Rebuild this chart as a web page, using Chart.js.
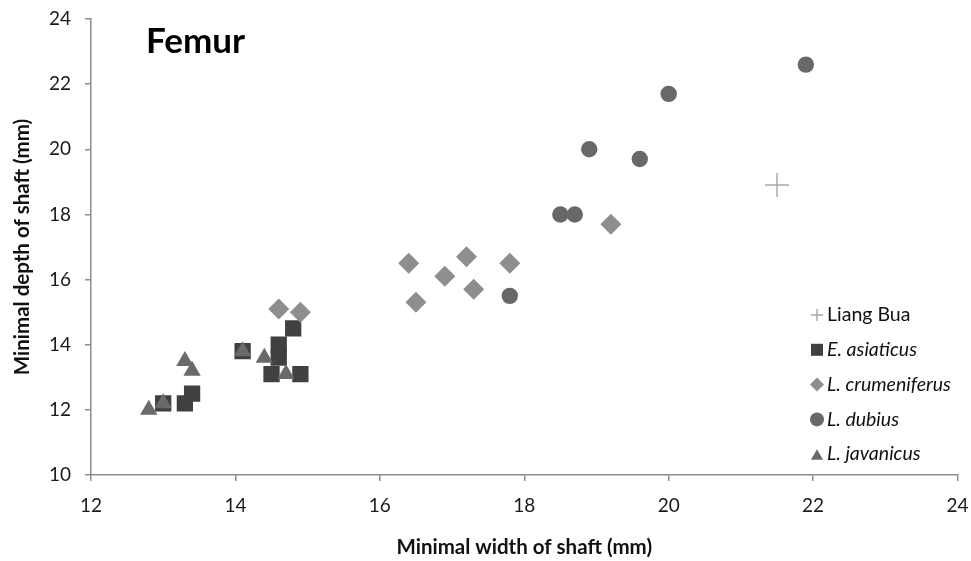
<!DOCTYPE html>
<html>
<head>
<meta charset="utf-8">
<script src="https://cdn.jsdelivr.net/npm/chart.js@4.4.1/dist/chart.umd.min.js"></script>
<style>
  html, body { margin: 0; padding: 0; background: #fff; }
</style>
</head>
<body>
<canvas id="chart" width="971" height="561"></canvas>
<script>
// Femur shaft: minimal width (x) vs minimal depth (y), mm

const xTicks = [12, 14, 16, 18, 20, 22, 24];
const yTicks = [10, 12, 14, 16, 18, 20, 22, 24];

const liangBuaX = [21.5];
const liangBuaY = [18.9];

const asiaticusX = [13.0, 13.3, 13.4, 14.1, 14.5, 14.6, 14.6, 14.8, 14.9];
const asiaticusY = [12.2, 12.2, 12.5, 13.8, 13.1, 14.0, 13.6, 14.5, 13.1];

const crumeniferusX = [14.6, 14.9, 16.4, 16.5, 16.9, 17.2, 17.3, 17.8, 19.2];
const crumeniferusY = [15.1, 15.0, 16.5, 15.3, 16.1, 16.7, 15.7, 16.5, 17.7];

const dubiusX = [17.8, 18.5, 18.7, 18.9, 19.6, 20.0, 21.9];
const dubiusY = [15.5, 18.0, 18.0, 20.0, 19.7, 21.7, 22.6];

const javanicusX = [12.8, 13.0, 13.3, 13.4, 14.1, 14.4, 14.7];
const javanicusY = [12.0, 12.2, 13.5, 13.2, 13.8, 13.6, 13.1];

const pts = (xs, ys) => xs.map((x, i) => ({ x, y: ys[i] }));

const FONT = "Lato, 'Open Sans', sans-serif";
const AXIS = "#8c8c8c";

// ── Title + legend drawn inside the plot area ────────────────
const overlay = {
  id: "overlay",
  afterDraw(chart) {
    const ctx = chart.ctx;
    ctx.save();
    ctx.fillStyle = "#000";
    ctx.font = `bold 35px ${FONT}`;
    ctx.textBaseline = "alphabetic";
    ctx.textAlign = "left";
    ctx.fillText("Femur", 146, 53);

    const lx = 817, ly0 = 315, step = 34.8;
    chart.data.datasets.forEach((ds, i) => {
      const y = ly0 + i * step;
      ctx.fillStyle = ds.backgroundColor;
      ctx.strokeStyle = ds.borderColor;
      ctx.lineWidth = ds.borderWidth || 1;
      Chart.helpers.drawPoint(ctx, {
        pointStyle: ds.pointStyle,
        radius: ds.pointStyle === "cross" ? 6 : (ds.pointStyle === "rect" ? 8.5 : 7),
        rotation: 0,
        borderWidth: ds.borderWidth,
      }, lx, ds.pointStyle === "triangle" ? y + 2 : y);
      ctx.fillStyle = "#111";
      ctx.font = `${ds.italic ? "italic " : ""}19.5px ${FONT}`;
      ctx.textBaseline = "middle";
      ctx.fillText(ds.label, 827, y);
    });
    ctx.restore();
  },
};

new Chart(document.getElementById("chart"), {
  type: "scatter",
  data: {
    datasets: [
      {
        label: "Liang Bua",
        data: pts(liangBuaX, liangBuaY),
        pointStyle: "cross",
        pointRadius: 12,
        borderColor: "#a8a8a8",
        backgroundColor: "#a8a8a8",
        borderWidth: 1.5,
        order: 5,
      },
      {
        label: "E. asiaticus",
        italic: true,
        data: pts(asiaticusX, asiaticusY),
        pointStyle: "rect",
        pointRadius: 11.5,
        borderColor: "#404040",
        backgroundColor: "#404040",
        borderWidth: 0,
        order: 4,
      },
      {
        label: "L. crumeniferus",
        italic: true,
        data: pts(crumeniferusX, crumeniferusY),
        pointStyle: "rectRot",
        pointRadius: 10.5,
        borderColor: "#8e8e8e",
        backgroundColor: "#8e8e8e",
        borderWidth: 0,
        order: 3,
      },
      {
        label: "L. dubius",
        italic: true,
        data: pts(dubiusX, dubiusY),
        pointStyle: "circle",
        pointRadius: 8.2,
        borderColor: "#686868",
        backgroundColor: "#686868",
        borderWidth: 0,
        order: 2,
      },
      {
        label: "L. javanicus",
        italic: true,
        data: pts(javanicusX, javanicusY),
        pointStyle: "triangle",
        pointRadius: 10,
        borderColor: "#6a6a6a",
        backgroundColor: "#6a6a6a",
        borderWidth: 0,
        order: 1,
      },
    ],
  },
  options: {
    responsive: false,
    animation: false,
    devicePixelRatio: 1,
    layout: { padding: { top: 19, right: 13, left: 0, bottom: 0 } },
    plugins: {
      legend: { display: false },
      tooltip: { enabled: false },
    },
    scales: {
      x: {
        type: "linear",
        min: xTicks[0],
        max: xTicks[xTicks.length - 1],
        afterBuildTicks: (s) => { s.ticks = xTicks.map((v) => ({ value: v })); },
        afterFit: (s) => { s.height = 86; s.paddingLeft = 0; s.paddingRight = 0; },
        ticks: { color: "#1a1a1a", font: { family: FONT, size: 19 }, padding: 13 },
        grid: { drawOnChartArea: false, drawTicks: true, tickLength: 6, color: AXIS, lineWidth: 1.5 },
        border: { color: AXIS, width: 1.5 },
        title: {
          display: true,
          text: "Minimal width of shaft (mm)",
          color: "#111",
          font: { family: FONT, size: 20.5, weight: "bold" },
          padding: { top: 0, bottom: 1.5 },
        },
      },
      y: {
        type: "linear",
        min: yTicks[0],
        max: yTicks[yTicks.length - 1],
        afterBuildTicks: (s) => { s.ticks = yTicks.map((v) => ({ value: v })); },
        afterFit: (s) => { s.width = 91; s.paddingTop = 0; s.paddingBottom = 0; },
        ticks: { color: "#1a1a1a", font: { family: FONT, size: 19 }, padding: 14 },
        grid: { drawOnChartArea: false, drawTicks: true, tickLength: 6, color: AXIS, lineWidth: 1.5 },
        border: { color: AXIS, width: 1.5 },
        title: {
          display: true,
          text: "Minimal depth of shaft (mm)",
          color: "#111",
          font: { family: FONT, size: 20.5, weight: "bold" },
          padding: { top: 10, bottom: 0 },
        },
      },
    },
  },
  plugins: [overlay],
});
</script>
</body>
</html>
